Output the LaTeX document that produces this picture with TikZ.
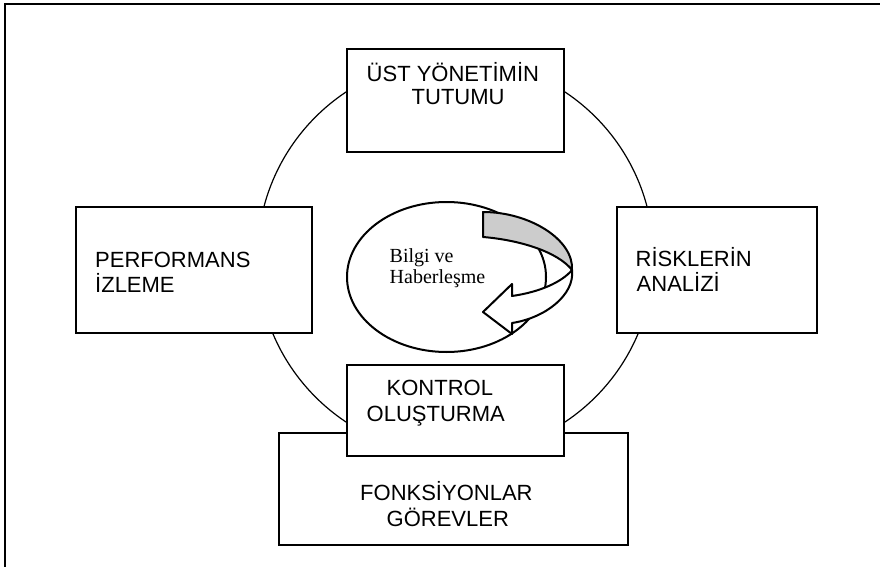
\documentclass[tikz,border=0pt]{standalone}
\usepackage{fontspec}
\setmainfont{Liberation Sans}
\newfontfamily\serifa{Liberation Serif}
\usetikzlibrary{shapes.geometric}

\tikzset{
  box/.style={draw=black, line width=2pt, fill=white, rectangle, inner sep=0pt},
  label/.style={inner sep=0pt, anchor=base west, font=\fontsize{22}{24}\selectfont},
  inlabel/.style={inner sep=0pt, anchor=base west, font=\serifa\fontsize{20}{22}\selectfont},
  ring/.style={draw=black, line width=1.2pt, circle, inner sep=0pt},
  ribbon/.style={draw=black, line width=2pt, line join=round},
}

\begin{document}
\begin{tikzpicture}[x=1pt, y=-1pt]
  \useasboundingbox (0,0) rectangle (880,567);

  % page frame
  \coordinate (fbl) at (5,567);
  \coordinate (ftl) at (5,4.5);
  \coordinate (ftr) at (880,4.5);
  \draw[line width=2pt] (fbl) -- (ftl) -- (ftr);

  % cycle ring
  \node[ring, minimum size=396pt] (cycle) at (455.5,257) {};

  % boxes on the ring
  \node[box, minimum width=217pt, minimum height=102pt] (top) at (455.5,100.5) {};
  \node[box, minimum width=236pt, minimum height=126pt] (left) at (194,270) {};
  \node[box, minimum width=200pt, minimum height=126pt] (right) at (717,270) {};
  \node[box, minimum width=349pt, minimum height=112pt] (base) at (453.5,489) {};
  \node[box, minimum width=217pt, minimum height=91pt] (ctrl) at (455.5,410.5) {};

  % information ellipse
  \node[draw=black, line width=2pt, ellipse, inner sep=0pt,
        minimum width=199pt, minimum height=150pt] (info) at (446.5,277) {};

  % curved arrow: back face of the ribbon
  \coordinate (ra) at (483,212);
  \coordinate (rb) at (483,237);
  \coordinate (rr) at (572,270);
  \fill[fill=black!20] (ra) -- (rb) .. controls (520,240) and (558,252) .. (rr)
        .. controls (574,240) and (530,212) .. (ra) -- cycle;
  \draw[ribbon] (ra) -- (rb) .. controls (520,240) and (558,252) .. (rr)
        .. controls (574,240) and (530,212) .. (ra) -- cycle;

  % curved arrow: front face with the head
  \coordinate (sb) at (512,323);
  \coordinate (hb) at (512,334);
  \coordinate (tip) at (483,312);
  \coordinate (ht) at (512,284);
  \coordinate (st) at (512,296);
  \filldraw[ribbon, fill=white] (rr) .. controls (575,295) and (545,318) .. (sb)
        -- (hb) -- (tip) -- (ht) -- (st)
        .. controls (540,292) and (562,282) .. (rr) -- cycle;

  % texts
  \node[label] (t1) at (366.5,81.7) {ÜST YÖNETİMİN};
  \node[label] (t2) at (411.5,105) {TUTUMU};
  \node[label] (l1) at (95,267.7) {PERFORMANS};
  \node[label] (l2) at (95,292.3) {İZLEME};
  \node[label] (r1) at (635.5,266) {RİSKLERİN};
  \node[label] (r2) at (636.5,291.7) {ANALİZİ};
  \node[label] (c1) at (386.5,395) {KONTROL};
  \node[label] (c2) at (366.5,421.7) {OLUŞTURMA};
  \node[label] (b1) at (360,500) {FONKSİYONLAR};
  \node[label] (b2) at (386.5,526.7) {GÖREVLER};
  \node[inlabel] (i1) at (389.5,262.7) {Bilgi ve};
  \node[inlabel] (i2) at (389.5,283.3) {Haberleşme};
\end{tikzpicture}
\end{document}
